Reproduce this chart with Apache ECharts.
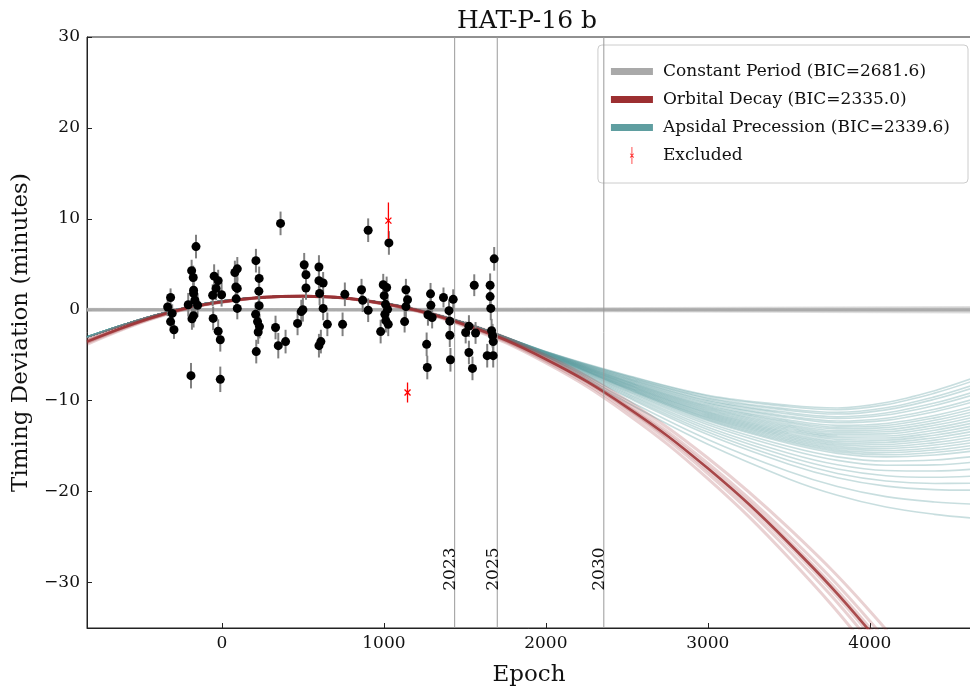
<!DOCTYPE html>
<html><head><meta charset="utf-8">
<script src="https://cdn.jsdelivr.net/npm/echarts@6/dist/echarts.min.js"></script>
<style>html,body{margin:0;padding:0;background:#fff}#c{width:970px;height:689px}</style>
</head><body><div id="c"></div>
<script>
// ---- observed transit timing data ----
const epochs = [-335,-317,-307,-317,-296,
  -208,-187,-177,-175,-175,-167,-150,-175,-185,-160,-191,
  -48,-23,-36,-57,-2,-54,-23,-10,-10,
  80,95,86,95,88,95,
  210,230,228,230,208,220,232,224,212,
  362,331,348,393,
  467,490,500,508,519,519,
  599,599,625,603,625,651,611,599,
  745,759,
  903,862,869,903,
  1031,996,1017,1002,1010,1023,1006,1012,1027,980,
  1136,1146,1136,1128,
  1288,1290,1272,1298,1264,1268,
  1368,1428,1402,1407,1407,1411,
  1558,1525,1505,1566,1525,1547,
  1681,1656,1656,1660,1665,1671,1675,1638,1675];
const deviations = [0.3,1.35,-0.4,-1.3,-2.2,
  0.55,4.3,3.55,2.15,1.8,1.05,0.5,-0.65,-1.0,6.95,-7.25,
  3.7,3.2,2.35,1.6,1.65,-0.95,-2.35,-3.3,-7.65,
  4.1,4.5,2.5,2.35,1.2,0.15,
  5.4,3.45,2.05,0.45,-0.5,-1.3,-1.85,-2.45,-4.6,
  9.5,-1.95,-3.95,-3.5,
  -1.5,-0.2,0.0,4.95,3.85,2.4,
  4.7,3.2,2.95,1.8,0.15,-1.6,-3.5,-3.95,
  -1.6,1.7,
  8.75,2.2,1.05,-0.05,
  7.35,2.75,2.45,1.55,0.6,0.05,-0.5,-1.2,-1.6,-2.4,
  2.2,1.1,0.35,-1.3,
  1.75,0.5,-0.55,-0.85,-3.8,-6.35,
  1.35,1.15,-0.1,-1.25,-2.8,-5.5,
  2.7,-1.8,-2.5,-2.55,-4.7,-6.45,
  5.6,2.7,1.45,0.15,-2.3,-2.85,-3.5,-5.05,-5.05];
const errors = [1.0,1.0,1.0,1.0,1.0,
  1.3,1.2,1.3,1.5,1.2,1.3,1.3,1.3,1.2,1.3,1.4,
  1.3,1.2,1.3,1.2,1.3,1.3,1.3,1.3,1.4,
  1.3,1.3,1.3,1.2,1.3,1.2,
  1.3,1.3,1.3,1.3,1.3,1.3,1.3,1.3,1.3,
  1.3,1.3,1.4,1.3,
  1.3,1.3,1.3,1.3,1.3,1.3,
  1.3,1.3,1.2,1.3,1.3,1.3,1.3,1.3,
  1.3,1.3,
  1.3,1.2,1.3,1.3,
  1.3,1.2,1.2,1.2,1.3,1.3,1.3,1.3,1.3,1.3,
  1.2,1.2,1.2,1.2,
  1.2,1.2,1.2,1.2,1.3,1.3,
  1.1,1.1,1.2,1.2,1.3,1.3,
  1.2,1.2,1.2,1.2,1.3,1.3,
  1.3,1.3,1.3,1.3,1.3,1.3,1.3,1.3,1.3];

// excluded points
const excludedEpochs = [1028, 1146];
const excludedDeviations = [9.8, -9.1];
const excludedErrors = [2.0, 1.1];

// ---- model curves (at these epochs) ----
const constEpochs = [-833, 4625];
const constantCurves = [[0,0],[-0.05,0.25],[0.05,-0.25],[-0.02,0.12],[0.02,-0.12]];

const decayEpochs = [-833,-400,0,500,1000,1500,2000,2500,3000,3500,4000,4625];
const decayCurves = [
  [-3.2,-0.57,0.90,1.5,0.71,-1.46,-5.02,-9.97,-16.30,-24.02,-33.13,-46.5],
  [-3.35,-0.63,0.88,1.5,0.69,-1.56,-5.23,-10.33,-16.87,-24.84,-34.23,-48.0],
  [-3.45,-0.68,0.87,1.5,0.67,-1.62,-5.37,-10.58,-17.25,-25.38,-34.97,-49.0],
  [-3.55,-0.72,0.86,1.5,0.65,-1.68,-5.51,-10.82,-17.63,-25.92,-35.71,-50.0],
  [-3.65,-0.77,0.84,1.5,0.63,-1.74,-5.65,-11.06,-18.01,-26.47,-36.45,-51.0],
  [-3.8,-0.83,0.82,1.5,0.61,-1.84,-5.86,-11.43,-18.58,-27.28,-37.55,-52.5]
];
const decayMedian = [-3.5,-0.70,0.86,1.5,0.66,-1.65,-5.44,-10.70,-17.44,-25.65,-35.34,-49.5];

const apsidalEpochs = [-833,-400,0,500,1000,1500,2000,2500,3000,3500,3800,4100,4400,4625];
const apsidalEarly = [-3.0,-0.55,0.95,1.5,0.75,-1.45];
const apsidalLate = [
  [-4.60,-7.20,-9.40,-10.50,-10.80,-10.20,-8.90,-7.60],
  [-4.61,-7.26,-9.51,-10.66,-10.99,-10.43,-9.17,-7.91],
  [-4.63,-7.35,-9.67,-10.91,-11.28,-10.78,-9.58,-8.37],
  [-4.64,-7.41,-9.78,-11.07,-11.47,-11.01,-9.85,-8.67],
  [-4.66,-7.50,-9.94,-11.31,-11.76,-11.35,-10.26,-9.13],
  [-4.67,-7.56,-10.05,-11.47,-11.95,-11.58,-10.53,-9.44],
  [-4.69,-7.65,-10.21,-11.72,-12.24,-11.93,-10.94,-9.90],
  [-4.70,-7.71,-10.32,-11.88,-12.43,-12.16,-11.21,-10.20],
  [-4.72,-7.80,-10.48,-12.12,-12.72,-12.50,-11.62,-10.66],
  [-4.73,-7.86,-10.59,-12.28,-12.91,-12.73,-11.89,-10.97],
  [-4.74,-7.92,-10.70,-12.44,-13.10,-12.96,-12.16,-11.27],
  [-4.76,-7.98,-10.80,-12.61,-13.30,-13.19,-12.44,-11.58],
  [-4.77,-8.04,-10.91,-12.77,-13.49,-13.42,-12.71,-11.88],
  [-4.78,-8.10,-11.02,-12.93,-13.68,-13.65,-12.98,-12.19],
  [-4.79,-8.16,-11.13,-13.09,-13.87,-13.88,-13.25,-12.50],
  [-4.80,-8.22,-11.24,-13.25,-14.06,-14.11,-13.52,-12.80],
  [-4.82,-8.28,-11.34,-13.42,-14.26,-14.34,-13.80,-13.11],
  [-4.83,-8.34,-11.45,-13.58,-14.45,-14.57,-14.07,-13.41],
  [-4.84,-8.40,-11.56,-13.74,-14.64,-14.80,-14.34,-13.72],
  [-4.85,-8.46,-11.67,-13.90,-14.83,-15.03,-14.61,-14.03],
  [-4.86,-8.52,-11.78,-14.06,-15.02,-15.26,-14.88,-14.33],
  [-4.88,-8.58,-11.88,-14.23,-15.22,-15.49,-15.16,-14.64],
  [-4.89,-8.64,-11.99,-14.39,-15.41,-15.72,-15.43,-14.94],
  [-4.90,-8.70,-12.10,-14.55,-15.60,-15.95,-15.70,-15.25],
  [-4.91,-8.76,-12.21,-14.71,-15.79,-16.18,-15.97,-15.56],
  [-4.94,-8.88,-12.42,-15.04,-16.18,-16.64,-16.52,-16.17],
  [-4.96,-9.00,-12.64,-15.36,-16.56,-17.10,-17.06,-16.78],
  [-4.99,-9.15,-12.91,-15.77,-17.04,-17.68,-17.74,-17.55],
  [-5.02,-9.30,-13.18,-16.17,-17.52,-18.25,-18.42,-18.31],
  [-5.05,-9.45,-13.45,-16.58,-18.00,-18.83,-19.10,-19.08],
  [-5.08,-9.60,-13.72,-16.98,-18.48,-19.40,-19.78,-19.84],
  [-5.14,-9.90,-14.26,-17.79,-19.44,-20.55,-21.14,-21.37],
  [-5.20,-10.20,-14.80,-18.60,-20.40,-21.70,-22.50,-22.90]
];

// reference years
const yearLabels = ['2023','2025','2030'];
const yearEpochs = [1437, 1700, 2358];

const xTicks = [0,1000,2000,3000,4000];
const yTicks = [-30,-20,-10,0,10,20,30];

const NAME_CONST = 'Constant Period (BIC=2681.6)';
const NAME_DECAY = 'Orbital Decay (BIC=2335.0)';
const NAME_APS = 'Apsidal Precession (BIC=2339.6)';
const NAME_EXCL = 'Excluded';
const FONT = 'DejaVu Serif';
const C_GRAY = '#a9a9a9', C_RED = '#9c2f31', C_TEAL = '#5f9ea0';

const zip = (xs, ys) => xs.map((x, i) => [x, ys[i]]);
const series = [];

constantCurves.forEach((c, i) => series.push({
  name: NAME_CONST, type: 'line', data: zip(constEpochs, c), showSymbol: false, silent: true,
  itemStyle: {color: C_GRAY}, lineStyle: {color: C_GRAY, width: 3, opacity: i === 0 ? 0.9 : 0.35}, z: 2
}));
apsidalLate.forEach(late => series.push({
  name: NAME_APS, type: 'line', data: zip(apsidalEpochs, apsidalEarly.concat(late)), showSymbol: false,
  smooth: 0.35, silent: true,
  itemStyle: {color: C_TEAL}, lineStyle: {color: C_TEAL, width: 1.6, opacity: 0.34}, z: 3
}));
decayCurves.forEach(c => series.push({
  name: NAME_DECAY, type: 'line', data: zip(decayEpochs, c), showSymbol: false, smooth: 0.4, silent: true,
  itemStyle: {color: C_RED}, lineStyle: {color: C_RED, width: 3, opacity: 0.22}, z: 4
}));
series.push({
  name: NAME_DECAY, type: 'line', data: zip(decayEpochs, decayMedian), showSymbol: false, smooth: 0.4, silent: true,
  itemStyle: {color: C_RED}, lineStyle: {color: C_RED, width: 2.6, opacity: 0.85}, z: 4
});

// reference year lines + labels
series.push({
  type: 'custom', silent: true, z: 5,
  data: yearEpochs.map((e, i) => [e, i]),
  renderItem: (params, api) => {
    const e = api.value(0);
    const top = api.coord([e, 30]), bot = api.coord([e, -35]);
    const lab = api.coord([e, -30.9]);
    return {type: 'group', children: [
      {type: 'line', shape: {x1: top[0], y1: top[1], x2: bot[0], y2: bot[1]},
       style: {stroke: '#9a9a9a', lineWidth: 1}},
      {type: 'text', x: lab[0] - 4, y: lab[1], rotation: Math.PI / 2,
       style: {text: yearLabels[params.dataIndex], fontFamily: FONT, fontSize: 17, fill: '#111',
               align: 'left', verticalAlign: 'middle'}}
    ]};
  }
});

// error bars
series.push({
  type: 'custom', silent: true, z: 6,
  data: epochs.map((e, i) => [e, deviations[i], errors[i]]),
  renderItem: (params, api) => {
    const x = api.value(0), y = api.value(1), er = api.value(2);
    const a = api.coord([x, y + er]), b = api.coord([x, y - er]);
    return {type: 'line', shape: {x1: a[0], y1: a[1], x2: b[0], y2: b[1]},
            style: {stroke: '#808080', lineWidth: 2}};
  }
});
// data points
series.push({
  type: 'scatter', data: zip(epochs, deviations), symbol: 'circle', symbolSize: 9,
  itemStyle: {color: '#000', opacity: 1}, z: 7, silent: true
});
// excluded
series.push({
  name: NAME_EXCL, type: 'custom', silent: true, z: 8,
  itemStyle: {color: '#ff0000'},
  data: excludedEpochs.map((e, i) => [e, excludedDeviations[i], excludedErrors[i]]),
  renderItem: (params, api) => {
    const x = api.value(0), y = api.value(1), er = api.value(2);
    const a = api.coord([x, y + er]), b = api.coord([x, y - er]), c = api.coord([x, y]);
    const s = 3;
    const st = {stroke: '#ff0000', lineWidth: 1.3};
    return {type: 'group', children: [
      {type: 'line', shape: {x1: a[0], y1: a[1], x2: b[0], y2: b[1]}, style: st},
      {type: 'line', shape: {x1: c[0]-s, y1: c[1]-s, x2: c[0]+s, y2: c[1]+s}, style: st},
      {type: 'line', shape: {x1: c[0]-s, y1: c[1]+s, x2: c[0]+s, y2: c[1]-s}, style: st}
    ]};
  }
});

const lineIcon = 'path://M0,0H42V7H0Z';
const exclIcon = 'path://M4.6,0H5.4V20H4.6Z M2.5,7.9L3.1,7.5L7.5,12.1L6.9,12.5Z M6.9,7.5L7.5,7.9L3.1,12.5L2.5,12.1Z';
const tickFmt = v => String(v).replace('-', '\u2212');

const option = {
  animation: false,
  backgroundColor: '#fff',
  textStyle: {fontFamily: FONT},
  title: {text: 'HAT-P-16 b', left: 522, top: 4, textAlign: 'center',
          textStyle: {fontFamily: FONT, fontSize: 25, fontWeight: 'normal', color: '#111'}},
  grid: {left: 87, top: 37, right: -1, bottom: 61, show: true, borderColor: '#222', borderWidth: 1,
         containLabel: false, outerBoundsMode: 'none'},
  legend: {
    orient: 'vertical', right: 2, top: 45, itemWidth: 42, itemHeight: 17, itemGap: 11,
    padding: [18, 18, 19, 13], backgroundColor: 'rgba(255,255,255,0.85)', borderColor: '#cccccc',
    borderWidth: 1, borderRadius: 4, selectedMode: false,
    textStyle: {fontFamily: FONT, fontSize: 17, color: '#111', padding: [0, 0, 0, 5]},
    data: [
      {name: NAME_CONST, icon: lineIcon, itemStyle: {color: C_GRAY, opacity: 1}},
      {name: NAME_DECAY, icon: lineIcon, itemStyle: {color: C_RED, opacity: 1}},
      {name: NAME_APS, icon: lineIcon, itemStyle: {color: C_TEAL, opacity: 1}},
      {name: NAME_EXCL, icon: exclIcon, itemStyle: {color: '#ff0000', opacity: 1}}
    ]
  },
  xAxis: {
    type: 'value', min: -833, max: 4625,
    name: 'Epoch', nameLocation: 'middle', nameGap: 36,
    nameTextStyle: {fontFamily: FONT, fontSize: 23, color: '#111'},
    axisLine: {show: true, onZero: false, lineStyle: {color: '#222', width: 1}},
    axisTick: {show: true, inside: true, length: 5, customValues: xTicks, lineStyle: {color: '#222'}},
    axisLabel: {customValues: xTicks, formatter: tickFmt, fontFamily: FONT, fontSize: 17, color: '#111', margin: 7},
    splitLine: {show: false}
  },
  yAxis: {
    type: 'value', min: -35, max: 30,
    name: 'Timing Deviation (minutes)', nameLocation: 'middle', nameGap: 54,
    nameTextStyle: {fontFamily: FONT, fontSize: 23, color: '#111'},
    axisLine: {show: true, onZero: false, lineStyle: {color: '#222', width: 1}},
    axisTick: {show: true, inside: true, length: 5, customValues: yTicks, lineStyle: {color: '#222'}},
    axisLabel: {customValues: yTicks, formatter: tickFmt, fontFamily: FONT, fontSize: 17, color: '#111', margin: 7},
    splitLine: {show: false}
  },
  series: series
};
const chart = echarts.init(document.getElementById('c'), null, {renderer: 'canvas'});
chart.setOption(option);
</script></body></html>
